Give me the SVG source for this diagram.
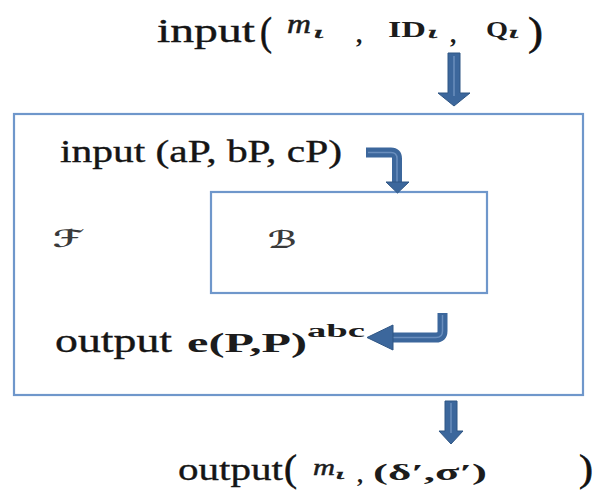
<svg xmlns="http://www.w3.org/2000/svg" width="600" height="492" viewBox="0 0 600 492">
  <defs>
    <style>
      .box { fill: none; stroke: #6f97cb; stroke-width: 2.2; }
      .t { font-family: "Liberation Serif", "Times New Roman", serif; fill: #151515; stroke: #151515; stroke-width: 0.35; }
      .m { font-family: "Liberation Serif", "Times New Roman", serif; fill: #1c1c1c; }
      .mi { font-style: italic; stroke: #1c1c1c; stroke-width: 0.5; }
      .b { font-weight: bold; }
      .par { font-family: "Liberation Serif", "Times New Roman", serif; fill: #111; stroke: #111; stroke-width: 0.6; }
      .scr { font-family: "DejaVu Serif", "DejaVu Sans", serif; fill: #3a3a3a; font-style: italic; font-weight: bold; }
      .arrow { fill: #3c679c; stroke: #2f5684; stroke-width: 1; }
      .bend { fill: none; stroke: #3c679c; stroke-width: 10; stroke-linejoin: round; }
      .shine { fill: none; stroke: #7598c6; stroke-width: 1.5; opacity: 0.8; }
    </style>
  </defs>

  <!-- caption above: input (m_i , ID_i , Q_i) -->
  <g id="input-top">
    <text class="t" x="157" y="42" font-size="33" textLength="98" lengthAdjust="spacingAndGlyphs">input</text>
    <text class="par" x="260" y="45" font-size="40" textLength="12" lengthAdjust="spacingAndGlyphs">(</text>
    <text class="m mi" x="287" y="33" font-size="27" textLength="24" lengthAdjust="spacingAndGlyphs">m</text>
    <text class="m mi" x="313" y="38" font-size="16" textLength="11" lengthAdjust="spacingAndGlyphs">ι</text>
    <text class="m b" x="356" y="43" font-size="25">,</text>
    <text class="m b" x="388" y="37" font-size="24" textLength="38" lengthAdjust="spacingAndGlyphs">ID</text>
    <text class="m mi" x="427" y="38" font-size="16" textLength="11" lengthAdjust="spacingAndGlyphs">ι</text>
    <text class="m b" x="450" y="43" font-size="25">,</text>
    <text class="m b" x="486" y="37" font-size="24" textLength="22" lengthAdjust="spacingAndGlyphs">Q</text>
    <text class="m mi" x="508" y="38" font-size="16" textLength="11" lengthAdjust="spacingAndGlyphs">ι</text>
    <text class="par" x="528" y="45" font-size="40" textLength="15" lengthAdjust="spacingAndGlyphs">)</text>
  </g>

  <!-- outer algorithm F -->
  <g id="node-F">
    <rect class="box" x="14" y="114" width="569" height="281"/>
    <text class="scr" x="53" y="247" font-size="24" textLength="29" lengthAdjust="spacingAndGlyphs">ℱ</text>
    <text class="t" x="60" y="162" font-size="31" textLength="282" lengthAdjust="spacingAndGlyphs">input (aP, bP, cP)</text>
    <text class="t" x="55" y="352" font-size="33" textLength="117" lengthAdjust="spacingAndGlyphs">output</text>
    <text class="m b" x="187" y="352" font-size="27" textLength="120" lengthAdjust="spacingAndGlyphs">e(P,P)</text>
    <text class="m b" x="307" y="337" font-size="18" textLength="58" lengthAdjust="spacingAndGlyphs">abc</text>
  </g>

  <!-- inner adversary B -->
  <g id="node-B">
    <rect class="box" x="211" y="192" width="276" height="101"/>
    <text class="scr" x="268" y="248" font-size="24" textLength="29" lengthAdjust="spacingAndGlyphs">ℬ</text>
  </g>

  <!-- caption below: output (m_i , (δ', σ')) -->
  <g id="output-bottom">
    <text class="t" x="178" y="480" font-size="32" textLength="105" lengthAdjust="spacingAndGlyphs">output</text>
    <text class="par" x="284" y="481" font-size="37" textLength="13" lengthAdjust="spacingAndGlyphs">(</text>
    <text class="m mi" x="313" y="475" font-size="24" textLength="22" lengthAdjust="spacingAndGlyphs">m</text>
    <text class="m mi" x="335" y="479" font-size="15" textLength="10" lengthAdjust="spacingAndGlyphs">ι</text>
    <text class="m b" x="357" y="482" font-size="24">,</text>
    <text class="m b" x="373" y="480" font-size="23" textLength="114" lengthAdjust="spacingAndGlyphs">(δ′,σ′)</text>
    <text class="par" x="579" y="481" font-size="37" textLength="14" lengthAdjust="spacingAndGlyphs">)</text>
  </g>

  <!-- connectors -->
  <g id="connectors">
    <!-- into F -->
    <polygon class="arrow" points="448,53 460,53 460,93 470,93 454,106 438,93 448,93"/>
    <line class="shine" x1="454" y1="56" x2="454" y2="96"/>
    <!-- F hands inputs to B -->
    <path class="bend" d="M366,152.5 H391 Q397,152.5 397,158.5 V183"/>
    <path class="shine" d="M368,152.5 H391 Q397,152.5 397,158.5 V185"/>
    <polygon class="arrow" points="386,182 409,182 397.5,193"/>
    <!-- B returns result to F -->
    <path class="bend" d="M442.5,313 V331 Q442.5,337.5 436,337.5 H390"/>
    <path class="shine" d="M442.5,315 V331 Q442.5,337.5 436,337.5 H386"/>
    <polygon class="arrow" points="393,325 393,350 367,337.5"/>
    <!-- out of F -->
    <polygon class="arrow" points="445,401 457,401 457,431 463,431 451,444 439,431 445,431"/>
    <line class="shine" x1="451" y1="403" x2="451" y2="433"/>
  </g>
</svg>
